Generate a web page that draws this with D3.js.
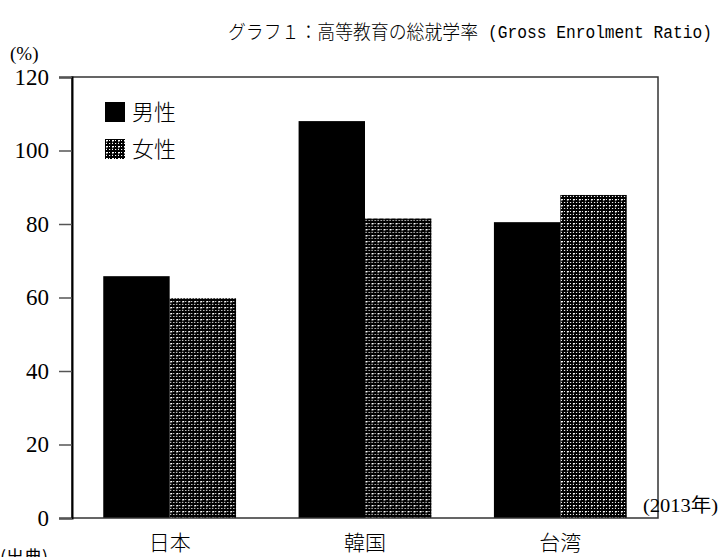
<!DOCTYPE html>
<html>
<head>
<meta charset="utf-8">
<script src="https://cdn.jsdelivr.net/npm/d3@7"></script>
<style>
  body { margin: 0; background: #fff; }
  text { fill: #000; }
</style>
</head>
<body>
<svg id="chart" width="723" height="557"></svg>
<script>
// values (2013, %)
const countries = ['日本', '韓国', '台湾'];
const seriesNames = ['男性', '女性'];
const male = [65.8, 108.0, 80.5];
const female = [59.8, 81.5, 87.9];
const yTicks = [0, 20, 40, 60, 80, 100, 120];

const svg = d3.select('#chart');
const serif = '"Liberation Serif", "DejaVu Serif", "Noto Sans CJK JP", serif';
const mono = '"Liberation Mono", "DejaVu Sans Mono", "Noto Sans CJK JP", monospace';
const jp = '"Noto Sans CJK JP", sans-serif';

const margin = { left: 72, right: 65, top: 77, bottom: 39 };
const W = 723, H = 557;

const x = d3.scaleBand().domain(countries)
  .range([margin.left, W - margin.right]).paddingOuter(0.16).paddingInner(0.32);
const xs = d3.scaleBand().domain(seriesNames).range([0, x.bandwidth()]);
const y = d3.scaleLinear().domain([0, 120]).range([H - margin.bottom, margin.top]);

// dotted fill used for 女性
const defs = svg.append('defs');
const pat = defs.append('pattern').attr('id', 'dots')
  .attr('patternUnits', 'userSpaceOnUse').attr('width', 6).attr('height', 6);
pat.append('rect').attr('width', 6).attr('height', 6).attr('fill', '#000');
[[1, 1, 2, 1.3], [4, 1, 1, 1], [1, 4, 1, 1], [4, 4, 1.2, 1], [1, 2.6, 1, 0.6]].forEach(([a, b, w, h]) => {
  pat.append('rect').attr('x', a).attr('y', b).attr('width', w).attr('height', h).attr('fill', '#fff');
});

const fills = { '男性': '#000', '女性': 'url(#dots)' };
const rows = countries.map((c, i) => ({ c, vals: [
  { s: '男性', v: male[i] }, { s: '女性', v: female[i] }] }));

// bars
const g = svg.append('g');
g.selectAll('g.grp').data(rows).enter().append('g')
  .attr('transform', (d) => `translate(${x(d.c)},0)`)
  .selectAll('rect').data((d) => d.vals).enter().append('rect')
  .attr('x', (d) => xs(d.s))
  .attr('width', xs.bandwidth())
  .attr('y', (d) => y(d.v))
  .attr('height', (d) => y(0) - y(d.v))
  .attr('fill', (d) => fills[d.s]);

// frame
svg.append('rect')
  .attr('x', margin.left).attr('y', margin.top)
  .attr('width', W - margin.right - margin.left)
  .attr('height', y(0) - margin.top)
  .attr('fill', 'none').attr('stroke', '#333').attr('stroke-width', 1.5);

// y axis
const yAxis = svg.append('g').attr('transform', `translate(${margin.left},0)`)
  .call(d3.axisLeft(y).tickValues(yTicks).tickSize(13).tickPadding(10));
yAxis.select('.domain').attr('stroke', '#000').attr('stroke-width', 2);
yAxis.selectAll('.tick line').attr('stroke', '#555').attr('stroke-width', 1.5);
yAxis.selectAll('.tick text').attr('font-family', serif).attr('font-size', 23)
  .attr('fill', '#000');

// x labels
svg.selectAll('text.cat').data(countries).enter().append('text')
  .attr('class', 'cat')
  .attr('x', (d) => x(d) + x.bandwidth() / 2)
  .attr('y', 550)
  .attr('text-anchor', 'middle')
  .attr('font-family', jp).attr('font-size', 21).attr('font-weight', 300)
  .text((d) => d);

// legend
const leg = svg.append('g').selectAll('g').data(seriesNames).enter().append('g')
  .attr('transform', (d, i) => `translate(105,${102 + i * 37})`);
leg.append('rect').attr('width', 20).attr('height', 20).attr('fill', (d) => fills[d]);
leg.append('text').attr('x', 27).attr('y', 18)
  .attr('font-family', jp).attr('font-size', 22).attr('font-weight', 300)
  .text((d) => d);

// title: Japanese part and the half-width Latin part
svg.append('text').attr('x', 228).attr('y', 39)
  .attr('font-family', jp).attr('font-size', 19).attr('font-weight', 300)
  .attr('textLength', 250).attr('lengthAdjust', 'spacingAndGlyphs')
  .text('グラフ１：高等教育の総就学率');
svg.append('text').attr('x', 488).attr('y', 38)
  .attr('font-family', mono).attr('font-size', 19)
  .attr('textLength', 224).attr('lengthAdjust', 'spacingAndGlyphs')
  .text('(Gross Enrolment Ratio)');
svg.append('text').attr('x', 10).attr('y', 60)
  .attr('font-family', serif).attr('font-size', 19).text('(%)');
svg.append('text').attr('x', 643).attr('y', 512)
  .attr('font-family', serif).attr('font-size', 19)
  .attr('textLength', 75).attr('lengthAdjust', 'spacingAndGlyphs').text('(2013年)');
svg.append('text').attr('x', 0).attr('y', 564)
  .attr('font-family', jp).attr('font-size', 18).text('(出典)');
</script>
</body>
</html>
